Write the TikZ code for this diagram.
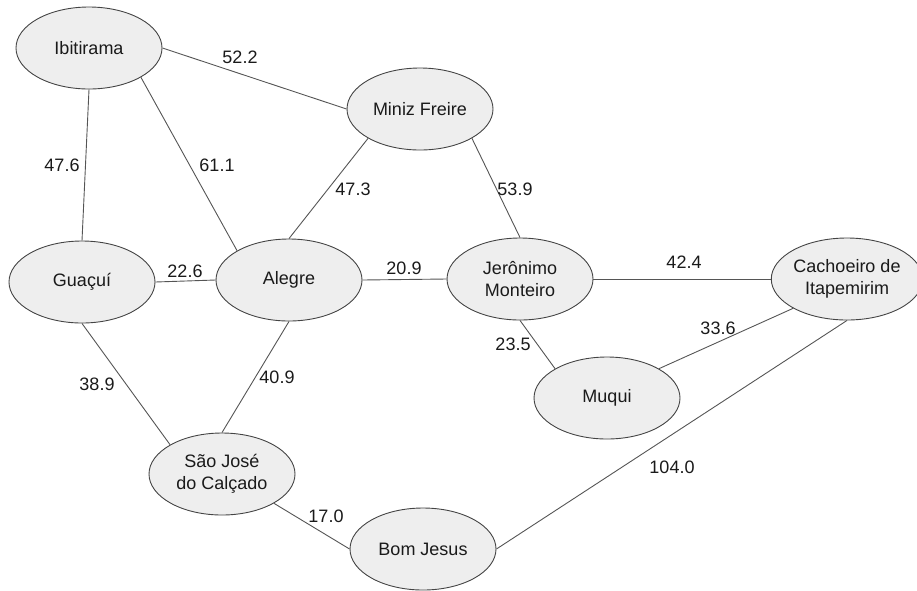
\documentclass[tikz,border=0pt]{standalone}
\usepackage{fontspec}
\setmainfont{Liberation Sans}
\usetikzlibrary{shapes.geometric}
\definecolor{nodefill}{HTML}{EEEEEE}
\definecolor{nodeline}{HTML}{444444}
\definecolor{edgeline}{HTML}{555555}
\definecolor{txt}{HTML}{1A1A1A}
\tikzset{
  city/.style={ellipse, draw=nodeline, fill=nodefill, line width=0.9pt,
    minimum width=146pt, minimum height=82pt, inner sep=0pt, align=center,
    text=txt, font=\fontsize{18}{22.5}\selectfont},
  road/.style={draw=edgeline, line width=0.9pt},
  dist/.style={text=txt, font=\fontsize{18}{22}\selectfont, inner sep=0pt}
}
\begin{document}
\begin{tikzpicture}[x=1pt, y=-1pt]
\useasboundingbox (0,0) rectangle (917,590);
\node[city] (ibi) at (89,48) {Ibitirama};
\node[city] (mf) at (420,109) {Miniz Freire};
\node[city] (gua) at (82,282) {Guaçuí};
\node[city] (ale) at (289,280) {Alegre};
\node[city] (jm) at (520,279) {Jerônimo\\Monteiro};
\node[city] (ci) at (847,279) {Cachoeiro de\\Itapemirim};
\node[city] (muq) at (607,398) {Muqui};
\node[city] (sjc) at (222,474) {São José\\do Calçado};
\node[city] (bj) at (423,549) {Bom Jesus};

\draw[road] (ibi.east) -- (mf.west);
\draw[road] (ibi.south) -- (gua.north);
\draw[road] (ibi.south east) -- (ale.north west);
\draw[road] (mf.south west) -- (ale.north);
\draw[road] (mf.south east) -- (jm.north);
\draw[road] (gua.east) -- (ale.west);
\draw[road] (ale.east) -- (jm.west);
\draw[road] (jm.east) -- (ci.west);
\draw[road] (jm.south) -- (muq.north west);
\draw[road] (ci.south west) -- (muq.north east);
\draw[road] (ci.south) -- (bj.east);
\draw[road] (gua.south) -- (sjc.north west);
\draw[road] (ale.south) -- (sjc.north);
\draw[road] (sjc.south east) -- (bj.west);

\node[dist] (l1) at (240,57) {52.2};
\node[dist] (l2) at (62,165) {47.6};
\node[dist] (l3) at (217,165) {61.1};
\node[dist] (l4) at (353,189) {47.3};
\node[dist] (l5) at (515,189) {53.9};
\node[dist] (l6) at (185,271) {22.6};
\node[dist] (l7) at (404,268) {20.9};
\node[dist] (l8) at (684,262) {42.4};
\node[dist] (l9) at (513,344) {23.5};
\node[dist] (l10) at (718,328) {33.6};
\node[dist] (l11) at (97,384) {38.9};
\node[dist] (l12) at (277,377) {40.9};
\node[dist] (l13) at (326,516) {17.0};
\node[dist] (l14) at (672,467) {104.0};
\end{tikzpicture}
\end{document}
